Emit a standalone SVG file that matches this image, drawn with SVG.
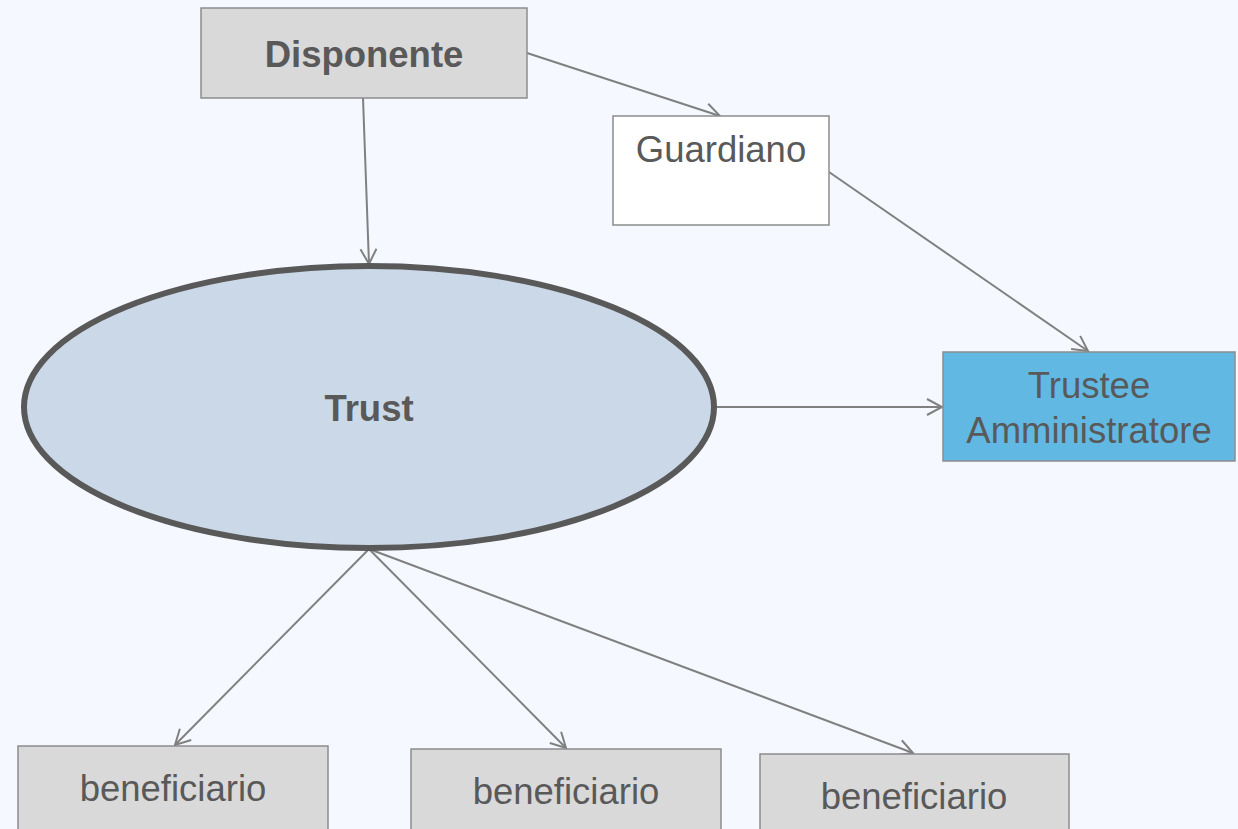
<svg xmlns="http://www.w3.org/2000/svg" width="1238" height="829" viewBox="0 0 1238 829">
<defs>
<style>
.t{font-family:"Liberation Sans",Arial,sans-serif;font-size:36.5px;fill:#595959;text-anchor:middle}
.b{font-weight:bold}
.box{stroke:#8c8c8c;stroke-width:1.5}
.grey{fill:#d9d9d9}
.c{stroke:#808080;stroke-width:2;fill:none;marker-end:url(#arr)}
</style>
<marker id="arr" markerUnits="userSpaceOnUse" markerWidth="22" markerHeight="22" refX="16" refY="9" orient="auto" viewBox="0 0 22 22">
<path d="M1,1 L16,9 L1,17" fill="none" stroke="#808080" stroke-width="2"/>
</marker>
</defs>
<rect width="1238" height="829" fill="#f5f8fe"/>
<g id="connectors">
<line class="c" x1="363" y1="98" x2="369" y2="264"/>
<line class="c" x1="527" y1="53" x2="720" y2="116"/>
<line class="c" x1="829" y1="172" x2="1088" y2="351"/>
<line class="c" x1="717" y1="407" x2="942" y2="407"/>
<line class="c" x1="369" y1="549" x2="175" y2="745"/>
<line class="c" x1="369" y1="549" x2="566" y2="748"/>
<line class="c" x1="369" y1="549" x2="913" y2="753"/>
</g>
<g id="disponente">
<rect class="box grey" x="201" y="8" width="326" height="90"/>
<text class="t b" x="364" y="67">Disponente</text>
</g>
<g id="guardiano">
<rect class="box" fill="#ffffff" x="613" y="116" width="216" height="109"/>
<text class="t" x="721" y="162">Guardiano</text>
</g>
<g id="trust">
<ellipse cx="369" cy="407" rx="345" ry="141" fill="#cbd8e7" stroke="#595959" stroke-width="6"/>
<text class="t b" x="369" y="421">Trust</text>
</g>
<g id="trustee">
<rect class="box" fill="#61b9e3" x="943" y="352" width="292" height="109"/>
<text class="t" x="1089" y="398">Trustee</text>
<text class="t" x="1089" y="443">Amministratore</text>
</g>
<g id="ben1">
<rect class="box grey" x="18" y="746" width="310" height="90"/>
<text class="t" x="173" y="801">beneficiario</text>
</g>
<g id="ben2">
<rect class="box grey" x="411" y="749" width="310" height="90"/>
<text class="t" x="566" y="804">beneficiario</text>
</g>
<g id="ben3">
<rect class="box grey" x="760" y="754" width="309" height="90"/>
<text class="t" x="914" y="809">beneficiario</text>
</g>
</svg>
